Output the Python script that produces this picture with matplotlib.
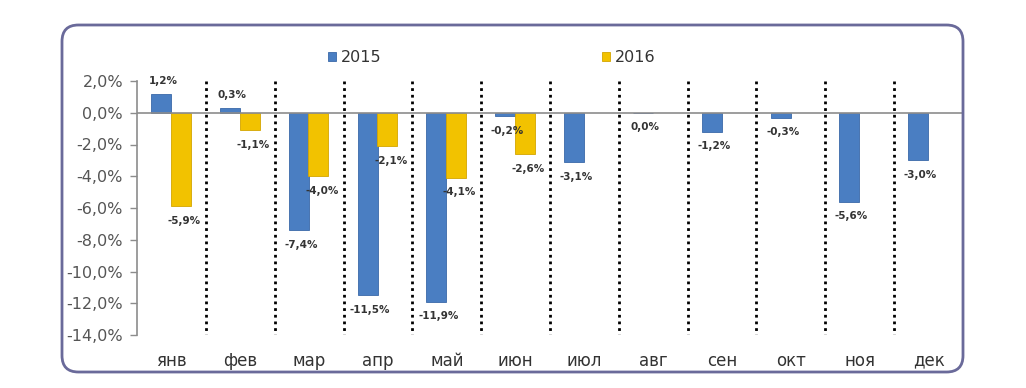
import matplotlib
matplotlib.use("Agg")
import matplotlib.pyplot as plt
from matplotlib.patches import FancyBboxPatch
from matplotlib.ticker import FuncFormatter
import numpy as np

months = ["янв", "фев", "мар", "апр", "май", "июн", "июл", "авг", "сен", "окт", "ноя", "дек"]
series_2015 = [1.2, 0.3, -7.4, -11.5, -11.9, -0.2, -3.1, 0.0, -1.2, -0.3, -5.6, -3.0]
series_2016 = [-5.9, -1.1, -4.0, -2.1, -4.1, -2.6]
yticks = [2, 0, -2, -4, -6, -8, -10, -12, -14]

plt.rcParams["font.family"] = ["DejaVu Sans"]

fig = plt.figure(figsize=(10.26, 3.88), dpi=100)
fig.patch.set_facecolor("white")

# rounded frame
frame = FancyBboxPatch((62 / 1026, 1 - 372 / 388), (963 - 62) / 1026, (372 - 25) / 388,
                       boxstyle="round,pad=0,rounding_size=0.016", transform=fig.transFigure,
                       facecolor="none", edgecolor="#6a6a9a", linewidth=2.0, zorder=10,
                       mutation_aspect=1026 / 388)
fig.patches.append(frame)

ax = fig.add_axes([137 / 1026, 1 - 335 / 388, (963 - 137) / 1026, (335 - 81) / 388])
ax.set_facecolor("none")

x = np.arange(len(months))
w = 0.29
blue = "#4A7EC2"
yellow = "#F2C200"

b1 = ax.bar(x - 0.15, series_2015, width=w, color=blue, edgecolor="#3A68A8", linewidth=0.6,
            label="2015", zorder=3)
x16 = np.arange(len(series_2016))
b2 = ax.bar(x16 + 0.135, series_2016, width=w, color=yellow, edgecolor="#D4A500", linewidth=0.6,
            label="2016", zorder=3)

def fmt(v):
    return f"{v:.1f}".replace(".", ",") + "%"

for xs, vals, dx in ((x - 0.15, series_2015, 0.03), (x16 + 0.135, series_2016, 0.05)):
    for xi, v in zip(xs, vals):
        off = 9 if v > 0 else -10.5
        ax.annotate(fmt(v), (xi + dx, v), xytext=(0, off), textcoords="offset points",
                    ha="center", va="center", fontsize=7.5, fontweight="bold", color="#333333",
                    zorder=5)

# dotted separators
for s in np.arange(0.5, len(months) - 0.5, 1.0):
    ax.plot([s, s], [2, -14], color="black", linestyle=(0, (1, 1.4)), linewidth=2.0, zorder=2)

ax.axhline(0, color="#8c8c8c", linewidth=1.2, zorder=4)

ax.set_xlim(-0.5, len(months) - 0.5)
ax.set_ylim(-14, 2)
ax.set_yticks(yticks)
ax.yaxis.set_major_formatter(FuncFormatter(lambda v, p: fmt(v)))
ax.set_xticks(x)
ax.set_xticklabels(months)
ax.tick_params(axis="x", length=0, labelsize=12, colors="#333333", pad=12)
ax.tick_params(axis="y", length=5, width=1, color="#8c8c8c", labelsize=11.5, labelcolor="#555555", pad=5)

for side in ("top", "right", "bottom"):
    ax.spines[side].set_visible(False)
ax.spines["left"].set_color("#8c8c8c")
ax.spines["left"].set_linewidth(1.2)

leg = fig.legend(handles=[b1, b2], labels=["2015", "2016"], loc="center",
                 bbox_to_anchor=(492 / 1026, 1 - 58 / 388), ncol=2, frameon=False,
                 fontsize=11.5, handlelength=0.5, handleheight=0.5, handletextpad=0.3,
                 columnspacing=13.8, labelcolor="#333333")

fig.savefig("out.png", dpi=100, facecolor="white")
